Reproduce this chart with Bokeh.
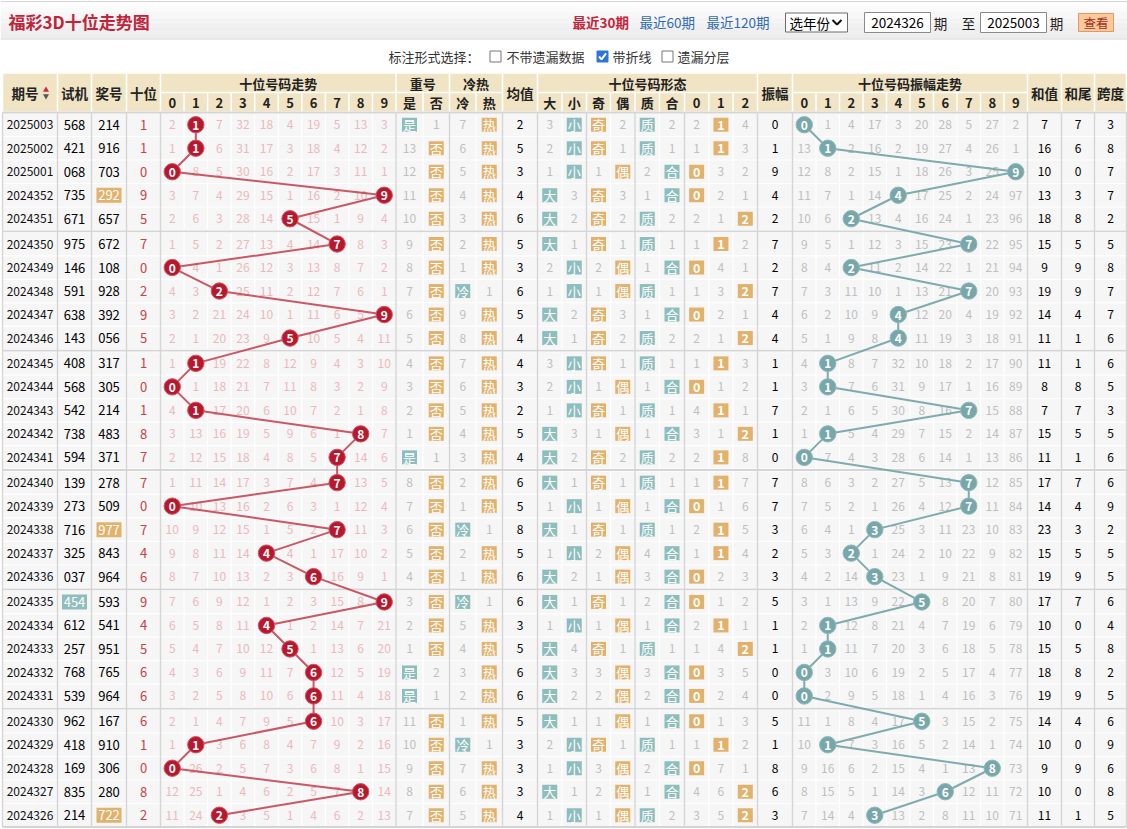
from bokeh.plotting import figure
from bokeh.models import Range1d, ColumnDataSource
from bokeh.embed import file_html
from bokeh.resources import INLINE
from bokeh.core.properties import value

# ---------------- data ----------------
periods = ["2025003", "2025002", "2025001", "2024352", "2024351", "2024350", "2024349", "2024348", "2024347", "2024346",
           "2024345", "2024344", "2024343", "2024342", "2024341", "2024340", "2024339", "2024338", "2024337", "2024336",
           "2024335", "2024334", "2024333", "2024332", "2024331", "2024330", "2024329", "2024328", "2024327", "2024326"]
test_nums = ["568", "421", "068", "735", "671", "975", "146", "591", "638", "143",
             "408", "568", "542", "738", "594", "139", "273", "716", "325", "037",
             "454", "612", "257", "768", "539", "962", "418", "169", "835", "214"]
test_hl = [0, 0, 0, 0, 0, 0, 0, 0, 0, 0, 0, 0, 0, 0, 0, 0, 0, 0, 0, 0, 1, 0, 0, 0, 0, 0, 0, 0, 0, 0]
draw_nums = ["214", "916", "703", "292", "657", "672", "108", "928", "392", "056",
             "317", "305", "214", "483", "371", "278", "509", "977", "843", "964",
             "593", "541", "951", "765", "964", "167", "910", "306", "280", "722"]
draw_hl = [0, 0, 0, 1, 0, 0, 0, 0, 0, 0, 0, 0, 0, 0, 0, 0, 0, 1, 0, 0, 0, 0, 0, 0, 0, 0, 0, 0, 0, 1]
tens = [1, 1, 0, 9, 5, 7, 0, 2, 9, 5, 1, 0, 1, 8, 7, 7, 0, 7, 4, 6, 9, 4, 5, 6, 6, 6, 1, 0, 8, 2]

trend_miss = [
    [2, 1, 7, 32, 18, 4, 19, 5, 13, 3],
    [1, 1, 6, 31, 17, 3, 18, 4, 12, 2],
    [0, 8, 5, 30, 16, 2, 17, 3, 11, 1],
    [3, 7, 4, 29, 15, 1, 16, 2, 10, 9],
    [2, 6, 3, 28, 14, 5, 15, 1, 9, 4],
    [1, 5, 2, 27, 13, 4, 14, 7, 8, 3],
    [0, 4, 1, 26, 12, 3, 13, 8, 7, 2],
    [4, 3, 2, 25, 11, 2, 12, 7, 6, 1],
    [3, 2, 21, 24, 10, 1, 11, 6, 5, 9],
    [2, 1, 20, 23, 9, 5, 10, 5, 4, 11],
    [1, 1, 19, 22, 8, 12, 9, 4, 3, 10],
    [0, 1, 18, 21, 7, 11, 8, 3, 2, 9],
    [4, 1, 17, 20, 6, 10, 7, 2, 1, 8],
    [3, 13, 16, 19, 5, 9, 6, 1, 8, 7],
    [2, 12, 15, 18, 4, 8, 5, 7, 14, 6],
    [1, 11, 14, 17, 3, 7, 4, 7, 13, 5],
    [0, 10, 13, 16, 2, 6, 3, 1, 12, 4],
    [10, 9, 12, 15, 1, 5, 2, 7, 11, 3],
    [9, 8, 11, 14, 4, 4, 1, 17, 10, 2],
    [8, 7, 10, 13, 2, 3, 6, 16, 9, 1],
    [7, 6, 9, 12, 1, 2, 3, 15, 8, 9],
    [6, 5, 8, 11, 4, 1, 2, 14, 7, 21],
    [5, 4, 7, 10, 12, 5, 1, 13, 6, 20],
    [4, 3, 6, 9, 11, 7, 6, 12, 5, 19],
    [3, 2, 5, 8, 10, 6, 6, 11, 4, 18],
    [2, 1, 4, 7, 9, 5, 6, 10, 3, 17],
    [1, 1, 3, 6, 8, 4, 7, 9, 2, 16],
    [0, 26, 2, 5, 7, 3, 6, 8, 1, 15],
    [12, 25, 1, 4, 6, 2, 5, 7, 8, 14],
    [11, 24, 2, 3, 5, 1, 4, 6, 2, 13],
]

repeat_flag = ["是", "否", "否", "否", "否", "否", "否", "否", "否", "否",
               "否", "否", "否", "否", "是", "否", "否", "否", "否", "否",
               "否", "否", "否", "是", "是", "否", "否", "否", "否", "否"]
repeat_miss = [1, 13, 12, 11, 10, 9, 8, 7, 6, 5, 4, 3, 2, 1, 1, 8, 7, 6, 5, 4, 3, 2, 1, 2, 1, 11, 10, 9, 8, 7]
hc_flag = ["热", "热", "热", "热", "热", "热", "热", "冷", "热", "热",
           "热", "热", "热", "热", "热", "热", "热", "冷", "热", "热",
           "冷", "热", "热", "热", "热", "热", "冷", "热", "热", "热"]
hc_miss = [7, 6, 5, 4, 3, 2, 1, 1, 9, 8, 7, 6, 5, 4, 3, 2, 1, 1, 2, 1, 1, 5, 4, 3, 2, 1, 1, 7, 6, 5]
avg_vals = [2, 5, 3, 4, 6, 5, 3, 6, 5, 4, 4, 3, 2, 5, 4, 6, 5, 8, 5, 6, 6, 3, 5, 6, 6, 5, 3, 3, 3, 4]

size_flag = ["小", "小", "小", "大", "大", "大", "小", "小", "大", "大",
             "小", "小", "小", "大", "大", "大", "小", "大", "小", "大",
             "大", "小", "大", "大", "大", "大", "小", "小", "大", "小"]
size_miss = [3, 2, 1, 3, 2, 1, 2, 1, 2, 1, 3, 2, 1, 3, 2, 1, 1, 1, 1, 2, 1, 1, 4, 3, 2, 1, 2, 1, 1, 1]
parity_flag = ["奇", "奇", "偶", "奇", "奇", "奇", "偶", "偶", "奇", "奇",
               "奇", "偶", "奇", "偶", "奇", "奇", "偶", "奇", "偶", "偶",
               "奇", "偶", "奇", "偶", "偶", "偶", "奇", "偶", "偶", "偶"]
parity_miss = [2, 1, 1, 3, 2, 1, 2, 1, 3, 2, 1, 1, 1, 1, 2, 1, 1, 1, 2, 1, 1, 1, 1, 3, 2, 1, 1, 3, 2, 1]
prime_flag = ["质", "质", "合", "合", "质", "质", "合", "质", "合", "质",
              "质", "合", "质", "合", "质", "质", "合", "质", "合", "合",
              "合", "合", "质", "合", "合", "合", "质", "合", "合", "质"]
prime_miss = [2, 1, 2, 1, 2, 1, 1, 1, 1, 2, 1, 1, 1, 1, 2, 1, 1, 1, 4, 3, 2, 1, 1, 3, 2, 1, 1, 2, 1, 2]
mod3_route = [1, 1, 0, 0, 2, 1, 0, 2, 0, 2, 1, 0, 1, 2, 1, 1, 0, 1, 1, 0, 0, 1, 2, 0, 0, 0, 1, 0, 2, 2]
mod3_cells = [[2, 1, 4], [1, 1, 3], [0, 3, 2], [0, 2, 1], [2, 1, 2], [1, 1, 2], [0, 4, 1], [1, 3, 2], [0, 2, 1], [2, 1, 2],
              [1, 1, 3], [0, 1, 2], [4, 1, 1], [3, 1, 2], [2, 1, 8], [1, 1, 7], [0, 1, 6], [2, 1, 5], [1, 1, 4], [0, 2, 3],
              [0, 1, 2], [2, 1, 1], [1, 4, 2], [0, 3, 5], [0, 2, 4], [0, 1, 3], [1, 1, 2], [0, 7, 1], [4, 6, 2], [3, 5, 2]]

amplitude = [0, 1, 9, 4, 2, 7, 2, 7, 4, 4, 1, 1, 7, 1, 0, 7, 7, 3, 2, 3, 5, 1, 1, 0, 0, 5, 1, 8, 6, 3]
amp_miss = [
    [0, 1, 4, 17, 3, 20, 28, 5, 27, 2],
    [13, 1, 2, 16, 2, 19, 27, 4, 26, 1],
    [12, 8, 2, 15, 1, 18, 26, 3, 25, 9],
    [11, 7, 1, 14, 4, 17, 25, 2, 24, 97],
    [10, 6, 2, 13, 4, 16, 24, 1, 23, 96],
    [9, 5, 1, 12, 3, 15, 23, 7, 22, 95],
    [8, 4, 2, 11, 2, 14, 22, 1, 21, 94],
    [7, 3, 11, 10, 1, 13, 21, 7, 20, 93],
    [6, 2, 10, 9, 4, 12, 20, 4, 19, 92],
    [5, 1, 9, 8, 4, 11, 19, 3, 18, 91],
    [4, 1, 8, 7, 32, 10, 18, 2, 17, 90],
    [3, 1, 7, 6, 31, 9, 17, 1, 16, 89],
    [2, 1, 6, 5, 30, 8, 16, 7, 15, 88],
    [1, 1, 5, 4, 29, 7, 15, 2, 14, 87],
    [0, 7, 4, 3, 28, 6, 14, 1, 13, 86],
    [8, 6, 3, 2, 27, 5, 13, 7, 12, 85],
    [7, 5, 2, 1, 26, 4, 12, 7, 11, 84],
    [6, 4, 1, 3, 25, 3, 11, 23, 10, 83],
    [5, 3, 2, 1, 24, 2, 10, 22, 9, 82],
    [4, 2, 14, 3, 23, 1, 9, 21, 8, 81],
    [3, 1, 13, 9, 22, 5, 8, 20, 7, 80],
    [2, 1, 12, 8, 21, 4, 7, 19, 6, 79],
    [1, 1, 11, 7, 20, 3, 6, 18, 5, 78],
    [0, 3, 10, 6, 19, 2, 5, 17, 4, 77],
    [0, 2, 9, 5, 18, 1, 4, 16, 3, 76],
    [11, 1, 8, 4, 17, 5, 3, 15, 2, 75],
    [10, 1, 7, 3, 16, 5, 2, 14, 1, 74],
    [9, 16, 6, 2, 15, 4, 1, 13, 8, 73],
    [8, 15, 5, 1, 14, 3, 6, 12, 11, 72],
    [7, 14, 4, 3, 13, 2, 8, 11, 10, 71],
]
sum_vals = [7, 16, 10, 13, 18, 15, 9, 19, 14, 11, 11, 8, 7, 15, 11, 17, 14, 23, 15, 19, 17, 10, 15, 18, 19, 14, 10, 9, 10, 11]
sum_tail = [7, 6, 0, 3, 8, 5, 9, 9, 4, 1, 1, 8, 7, 5, 1, 7, 4, 3, 5, 9, 7, 0, 5, 8, 9, 4, 0, 9, 0, 1]
span_vals = [3, 8, 7, 7, 2, 5, 8, 7, 7, 6, 6, 5, 3, 5, 6, 6, 9, 2, 5, 5, 6, 4, 8, 2, 5, 6, 9, 6, 8, 5]

digit_labels = ["0", "1", "2", "3", "4", "5", "6", "7", "8", "9"]
form_labels = ["大", "小", "奇", "偶", "质", "合", "0", "1", "2"]

# ---------------- layout / style ----------------
W, H = 1127, 829
FONT = "Noto Sans CJK SC"
CELL = "#f6f6f6"
HEAD = "#f1e4c5"
SEPC = "#d5d5d5"
ORANGE = "#e2b26c"
TEAL = "#8dbdbd"
RED_BALL = "#b8182e"
RED_LINE = "#c43a4b"
TEAL_BALL = "#78a7aa"
PINK = "#ebb9bc"
GRAY = "#bfbfbf"

ROW_H = 23.5
SEP = 1.8
TOP = 112.5
N = len(periods)


def row_top(i):
    return TOP + i * ROW_H + (i // 5) * SEP


ys = [row_top(i) + ROW_H / 2 for i in range(N)]

E_period = (2, 57)
E_test = (57, 91)
E_draw = (91, 126)
E_ten = (126, 160)
TW = 23.55
trend_edges = [(160 + k * TW, 160 + (k + 1) * TW) for k in range(10)]
rep_edges = [(395.5, 422.5), (422.5, 449)]
hc_edges = [(449, 475.5), (475.5, 502)]
E_avg = (502, 537)
form_edges = [(537, 561.5), (561.5, 586), (586, 610), (610, 634.5), (634.5, 659), (659, 684),
              (684, 708.3), (708.3, 732.6), (732.6, 757)]
E_ampv = (757, 792)
AW = 23.5
amp_edges = [(792 + k * AW, 792 + (k + 1) * AW) for k in range(10)]
sum_edges = [(1027, 1061), (1061, 1094), (1094, 1126)]

all_edges = [E_period, E_test, E_draw, E_ten] + trend_edges + rep_edges + hc_edges + [E_avg] + \
    form_edges + [E_ampv] + amp_edges + sum_edges


def cx(e):
    return (e[0] + e[1]) / 2


p = figure(width=W, height=H, x_range=Range1d(0, W), y_range=Range1d(H, 0),
           output_backend="svg", toolbar_location=None, min_border=0,
           x_axis_location=None, y_axis_location=None)
p.grid.visible = False
p.outline_line_color = None
p.background_fill_color = "white"
p.border_fill_color = "white"


def txt(xs, yy, texts, color="#000", size="12px", bold=False, align="center", font=FONT):
    xs = list(xs)
    data = dict(x=xs, y=list(yy), t=list(texts))
    if isinstance(color, (list, tuple)):
        data["c"] = list(color)
    else:
        data["c"] = [color] * len(xs)
    src = ColumnDataSource(data)
    p.text(x="x", y="y", text="t", source=src, text_color="c", text_font_size=size,
           text_font=value(font), text_font_style="bold" if bold else "normal",
           text_align=align, text_baseline="middle")


# ---------------- title bar ----------------
bands = ["#fdfdfd", "#fafafa", "#f7f7f7", "#f4f4f4", "#f1f1f1", "#efefef", "#ededed"]
bh = 37.0 / len(bands)
p.quad(left=[0] * len(bands), right=[W] * len(bands),
       top=[1 + k * bh for k in range(len(bands))], bottom=[1 + (k + 1) * bh for k in range(len(bands))],
       fill_color=bands, line_color=None)
p.segment(x0=[0, 0], y0=[1, 38.5], x1=[W, W], y1=[1, 38.5], line_color="#d6d6d6", line_width=1)
txt([8], [21], ["福彩3D十位走势图"], color="#c2233a", size="17px", bold=True, align="left")
txt([572], [21], ["最近30期"], color="#c8233a", size="13.5px", bold=True, align="left")
txt([639, 706], [21, 21], ["最近60期", "最近120期"], color="#2f6bb3", size="13.5px", align="left")
# select box
p.rect(x=[816], y=[22], width=[62], height=[19], fill_color="white", line_color="#6d6d6d")
txt([789], [22], ["选年份"], color="#000", size="13.5px", align="left")
p.line(x=[832, 836.5, 841], y=[19.5, 24, 19.5], line_color="#111", line_width=2)
# inputs
p.rect(x=[897, 1013], y=[22, 22], width=[66, 66], height=[20, 20], fill_color="white", line_color="#8a8a8a")
txt([897, 1013], [22, 22], ["2024326", "2025003"], color="#000", size="13.5px")
txt([940, 968, 1056], [22, 22, 22], ["期", "至", "期"], color="#222", size="13.5px")
# button
p.rect(x=[1095.5], y=[22], width=[35], height=[18], fill_color="#fbc99c", line_color="#e39a62")
txt([1095.5], [22], ["查看"], color="#a3301f", size="12.5px")

# ---------------- option row ----------------
txt([388], [56], ["标注形式选择："], color="#333", size="13px", align="left")
p.rect(x=[495, 667], y=[56, 56], width=[11, 11], height=[11, 11], fill_color="white", line_color="#767676")
p.rect(x=[602], y=[56], width=[11], height=[11], fill_color="#2d76d9", line_color="#2d76d9")
p.line(x=[598.5, 601, 605.5], y=[56, 58.8, 52.8], line_color="white", line_width=2)
txt([506, 612, 677], [56, 56, 56], ["不带遗漏数据", "带折线", "遗漏分层"], color="#333", size="13px", align="left")

# ---------------- table header ----------------
H_TOP, H_MID, H_BOT = 72.5, 92.0, 111.5
hx, hy, hw, hh = [], [], [], []
full_cols = [E_period, E_test, E_draw, E_ten, E_avg, E_ampv] + sum_edges
for e in full_cols:
    hx.append(cx(e)); hy.append((H_TOP + H_BOT) / 2); hw.append(e[1] - e[0] - 1.5); hh.append(H_BOT - H_TOP - 1.5)
groups = [(trend_edges[0][0], trend_edges[-1][1]), (rep_edges[0][0], rep_edges[-1][1]),
          (hc_edges[0][0], hc_edges[-1][1]), (form_edges[0][0], form_edges[-1][1]),
          (amp_edges[0][0], amp_edges[-1][1])]
for g in groups:
    hx.append(cx(g)); hy.append((H_TOP + H_MID) / 2); hw.append(g[1] - g[0] - 1.5); hh.append(H_MID - H_TOP - 1.5)
sub_edges = trend_edges + rep_edges + hc_edges + form_edges + amp_edges
for e in sub_edges:
    hx.append(cx(e)); hy.append((H_MID + H_BOT) / 2); hw.append(e[1] - e[0] - 1.5); hh.append(H_BOT - H_MID - 1.5)
p.rect(x=hx, y=hy, width=hw, height=hh, fill_color=HEAD, line_color=None)

ymid_full = (H_TOP + H_BOT) / 2 + 0.5
txt([24.5] + [cx(e) for e in [E_test, E_draw, E_ten, E_avg, E_ampv] + sum_edges], [ymid_full] * 9,
    ["期号", "试机", "奖号", "十位", "均值", "振幅", "和值", "和尾", "跨度"], color="#222", size="13.5px", bold=True)
p.scatter(x=[45.5], y=[89.5], marker="triangle", size=6, fill_color="#d0283a", line_color=None)
p.scatter(x=[45.5], y=[95.5], marker="inverted_triangle", size=6, fill_color="#555", line_color=None)
txt([cx(g) for g in groups], [(H_TOP + H_MID) / 2 + 0.5] * 5,
    ["十位号码走势", "重号", "冷热", "十位号码形态", "十位号码振幅走势"], color="#222", size="13px", bold=True)
sub_labels = digit_labels + ["是", "否", "冷", "热"] + form_labels + digit_labels
txt([cx(e) for e in sub_edges], [(H_MID + H_BOT) / 2 + 0.5] * len(sub_edges), sub_labels,
    color="#222", size="13px", bold=True)

# ---------------- data cells ----------------
cxs, cys, cws, chs = [], [], [], []
for i in range(N):
    for e in all_edges:
        cxs.append(cx(e)); cys.append(ys[i]); cws.append(e[1] - e[0] - 1.2); chs.append(ROW_H - 1.2)
p.rect(x=cxs, y=cys, width=cws, height=chs, fill_color=CELL, line_color=None)

# separators
table_bot = row_top(N - 1) + ROW_H
sep_x = [2, 57, 91, 126, 160, 395.5, 449, 502, 537, 586, 634.5, 684, 757, 792, 1027, 1061, 1094, 1126]
p.segment(x0=sep_x, y0=[112] * len(sep_x), x1=sep_x, y1=[table_bot] * len(sep_x), line_color=SEPC, line_width=1.4)
hy_sep = [112] + [row_top(5 * g) - SEP / 2 for g in range(1, 6)] + [table_bot]
p.segment(x0=[2] * len(hy_sep), y0=hy_sep, x1=[1126] * len(hy_sep), y1=hy_sep, line_color=SEPC, line_width=1.8)

# period / test / draw / ten
txt([cx(E_period)] * N, ys, periods, color="#111", size="12px")
thx = [cx(E_test) for i in range(N) if test_hl[i]]
thy = [ys[i] for i in range(N) if test_hl[i]]
p.rect(x=thx, y=thy, width=25, height=15, fill_color=TEAL, line_color=None)
dhx = [cx(E_draw) for i in range(N) if draw_hl[i]]
dhy = [ys[i] for i in range(N) if draw_hl[i]]
p.rect(x=dhx, y=dhy, width=25, height=15, fill_color=ORANGE, line_color=None)
txt([cx(E_test)] * N, ys, test_nums, color=["white" if h else "#000" for h in test_hl], size="13px")
txt([cx(E_draw)] * N, ys, draw_nums, color=["white" if h else "#000" for h in draw_hl], size="13px")
txt([cx(E_ten)] * N, ys, [str(t) for t in tens], color="#c94049", size="13px")

# trend misses
mx, my, mt = [], [], []
for i in range(N):
    for k in range(10):
        if k != tens[i]:
            mx.append(cx(trend_edges[k])); my.append(ys[i]); mt.append(str(trend_miss[i][k]))
txt(mx, my, mt, color=PINK, size="12px")
bxs = [cx(trend_edges[t]) for t in tens]
p.line(x=bxs, y=ys, line_color=RED_LINE, line_width=2, line_alpha=0.85)
p.circle(x=bxs, y=ys, radius=8.2, fill_color=RED_BALL, line_color="#cf5563", line_width=1)
txt(bxs, [y + 0.5 for y in ys], [str(t) for t in tens], color="white", size="12px", bold=True)

BW, BH = 15, 14


def pair(edges2, flags, misses, opts, colors):
    bx, by, bt, bc, mx2, my2, mt2 = [], [], [], [], [], [], []
    for i in range(N):
        j = opts.index(flags[i])
        bx.append(cx(edges2[j])); by.append(ys[i]); bt.append(flags[i]); bc.append(colors[j])
        mx2.append(cx(edges2[1 - j])); my2.append(ys[i]); mt2.append(str(misses[i]))
    p.rect(x=bx, y=by, width=BW, height=BH, fill_color=bc, line_color=None)
    txt(bx, by, bt, color="white", size="13px")
    txt(mx2, my2, mt2, color=GRAY, size="12px")


pair(rep_edges, repeat_flag, repeat_miss, ["是", "否"], [TEAL, ORANGE])
pair(hc_edges, hc_flag, hc_miss, ["冷", "热"], [TEAL, ORANGE])
txt([cx(E_avg)] * N, ys, [str(v) for v in avg_vals], color="#000", size="12px")
pair(form_edges[0:2], size_flag, size_miss, ["大", "小"], [TEAL, TEAL])
pair(form_edges[2:4], parity_flag, parity_miss, ["奇", "偶"], [ORANGE, ORANGE])
pair(form_edges[4:6], prime_flag, prime_miss, ["质", "合"], [TEAL, TEAL])

# 012 route
rbx, rby, rbt, rmx, rmy, rmt = [], [], [], [], [], []
for i in range(N):
    for k in range(3):
        e = form_edges[6 + k]
        if k == mod3_route[i]:
            rbx.append(cx(e)); rby.append(ys[i]); rbt.append(str(mod3_cells[i][k]))
        else:
            rmx.append(cx(e)); rmy.append(ys[i]); rmt.append(str(mod3_cells[i][k]))
p.rect(x=rbx, y=rby, width=BW, height=BH, fill_color=ORANGE, line_color=None)
txt(rbx, rby, rbt, color="white", size="12.5px", bold=True)
txt(rmx, rmy, rmt, color=GRAY, size="12px")

txt([cx(E_ampv)] * N, ys, [str(v) for v in amplitude], color="#000", size="12px")

# amplitude trend
ax, ay, at = [], [], []
for i in range(N):
    for k in range(10):
        if k != amplitude[i]:
            ax.append(cx(amp_edges[k])); ay.append(ys[i]); at.append(str(amp_miss[i][k]))
txt(ax, ay, at, color=GRAY, size="12px")
abx = [cx(amp_edges[a]) for a in amplitude]
p.line(x=abx, y=ys, line_color=TEAL_BALL, line_width=2, line_alpha=0.95)
p.circle(x=abx, y=ys, radius=8.2, fill_color=TEAL_BALL, line_color="#8fb8ba", line_width=1)
txt(abx, [y + 0.5 for y in ys], [str(a) for a in amplitude], color="white", size="12px", bold=True)

txt([cx(sum_edges[0])] * N, ys, [str(v) for v in sum_vals], color="#000", size="12px")
txt([cx(sum_edges[1])] * N, ys, [str(v) for v in sum_tail], color="#000", size="12px")
txt([cx(sum_edges[2])] * N, ys, [str(v) for v in span_vals], color="#000", size="12px")

open("out.html", "w").write(file_html(p, INLINE))
